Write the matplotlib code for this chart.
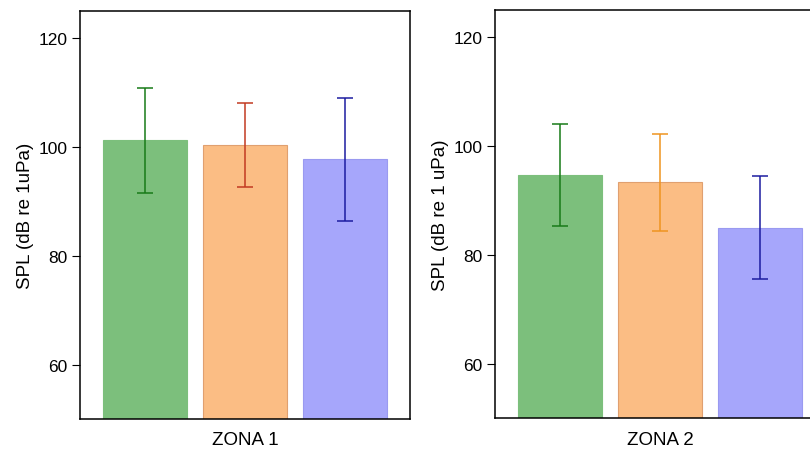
import matplotlib
matplotlib.use("Agg")
import matplotlib.pyplot as plt

plt.rcParams['font.family'] = ['Liberation Sans', 'DejaVu Sans']

# mean SPL per group and error bar half-widths
zona1_means = [101.2, 100.4, 97.7]
zona1_errs = [9.6, 7.7, 11.3]
zona2_means = [94.6, 93.3, 85.0]
zona2_errs = [9.4, 8.9, 9.5]

bar_colors = ['#7cbf7c', '#fbbd84', '#a6a6fb']
edge_colors = ['#7cbf7c', '#e0a070', '#9a9af0']
err_colors_1 = ['#187a18', '#c23a22', '#1c1ca0']
err_colors_2 = ['#187a18', '#ef9420', '#1c1ca0']

panels = [
    (zona1_means, zona1_errs, err_colors_1, 'ZONA 1', 'SPL (dB re 1uPa)'),
    (zona2_means, zona2_errs, err_colors_2, 'ZONA 2', 'SPL (dB re 1 uPa)'),
]

fig = plt.figure(figsize=(8.1, 4.52), dpi=100)
ax_pos = [[0.0988, 0.0708, 0.4074, 0.9027], [0.6111, 0.0730, 0.4074, 0.9030]]

for pos, (means, errs, ecols, xlab, ylab) in zip(ax_pos, panels):
    ax = fig.add_axes(pos)
    x = range(len(means))
    ax.bar(x, [m - 40 for m in means], bottom=40, width=0.84,
           color=bar_colors, edgecolor=edge_colors, linewidth=0.8, zorder=2)
    for xi, m, e, c in zip(x, means, errs, ecols):
        ax.errorbar(xi, m, yerr=e, fmt='none', ecolor=c, elinewidth=1.1,
                    capsize=6, capthick=1.1, zorder=3)
    ax.set_xlim(-0.65, 2.65)
    ax.set_ylim(50, 125)
    ax.set_yticks([60, 80, 100, 120])
    ax.set_xticks([])
    ax.set_xlabel(xlab, fontsize=13.5, labelpad=9)
    ax.set_ylabel(ylab, fontsize=13.5, labelpad=3)
    ax.tick_params(axis='y', direction='out', length=6, labelsize=12.5, width=0.8, pad=3)
    for s in ax.spines.values():
        s.set_linewidth(1.1)
        s.set_color('black')

fig.savefig('out.png', dpi=100)
